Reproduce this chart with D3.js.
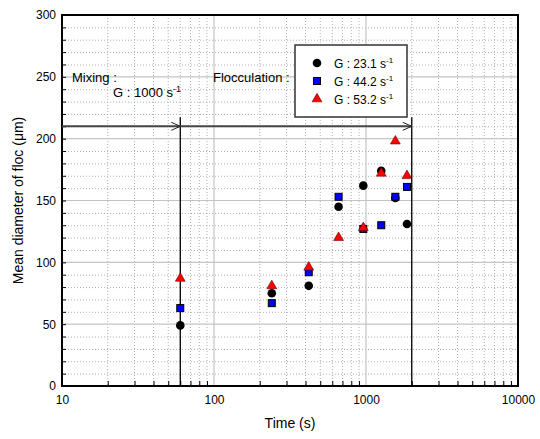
<!DOCTYPE html>
<html>
<meta charset="utf-8">
<head>
<script src="https://d3js.org/d3.v7.min.js"></script>
<style>
  body { margin: 0; background: #fff; }
  text { font-family: "Liberation Sans", Arial, sans-serif; fill: #000; }
</style>
</head>
<body>
<div id="chart"></div>
<script>
// data
var times = [60, 240, 420, 660, 960, 1260, 1560, 1860];
var g231 = [49, 75, 81, 145, 162, 174, 152, 131];
var g442 = [63, 67, 92, 153, 127, 130, 153, 161];
var g532 = [87, 81, 96, 120, 128, 172, 198, 170];
var seriesNames = ["G : 23.1 s", "G : 44.2 s", "G : 53.2 s"];
var xMajor = [10, 100, 1000, 10000];
var yMajor = [0, 50, 100, 150, 200, 250, 300];
var phaseTimes = [60, 2000];
var phaseLevel = 210;

var W = 540, H = 439;
var pL = 62, pR = 518, pT = 15, pB = 386;

var svg = d3.select("#chart").append("svg")
  .attr("width", W)
  .attr("height", H);

var x = d3.scaleLog().domain([10, 10000]).range([pL, pR]);
var y = d3.scaleLinear().domain([0, 300]).range([pB, pT]);

var xMinor = x.ticks().filter(function(d) { return xMajor.indexOf(d) < 0; });
var yMinor = d3.range(0, 301, 10).filter(function(d) { return d % 50 != 0; });

// grid
var grid = svg.append("g");
grid.selectAll(".xm").data(xMinor).enter().append("line")
  .attr("x1", function(d) { return x(d); }).attr("x2", function(d) { return x(d); })
  .attr("y1", pT).attr("y2", pB)
  .attr("stroke", "#b0b0b0").attr("stroke-width", 1).attr("stroke-dasharray", "1,2");
grid.selectAll(".ym").data(yMinor).enter().append("line")
  .attr("x1", pL).attr("x2", pR)
  .attr("y1", function(d) { return y(d) + 0.5; }).attr("y2", function(d) { return y(d) + 0.5; })
  .attr("stroke", "#b0b0b0").attr("stroke-width", 1).attr("stroke-dasharray", "1,2");
grid.selectAll(".xM").data(xMajor).enter().append("line")
  .attr("x1", function(d) { return x(d); }).attr("x2", function(d) { return x(d); })
  .attr("y1", pT).attr("y2", pB)
  .attr("stroke", "#c4c4c4").attr("stroke-width", 1.2);
grid.selectAll(".yM").data(yMajor).enter().append("line")
  .attr("x1", pL).attr("x2", pR)
  .attr("y1", function(d) { return y(d); }).attr("y2", function(d) { return y(d); })
  .attr("stroke", "#c4c4c4").attr("stroke-width", 1.2);

// axes with inward ticks
var xAxis = svg.append("g").attr("transform", "translate(0," + pB + ")")
  .call(d3.axisTop(x).tickValues(xMinor).tickSize(5).tickFormat(""));
xAxis.select(".domain").remove();
var xAxis2 = svg.append("g").attr("transform", "translate(0," + pB + ")")
  .call(d3.axisBottom(x).tickValues(xMajor).tickSize(0).tickPadding(9).tickFormat(d3.format("d")));
xAxis2.select(".domain").remove();
xAxis2.selectAll("text").attr("font-size", 12).attr("font-family", "Liberation Sans, Arial, sans-serif");

var yAxis = svg.append("g").attr("transform", "translate(" + pL + ",0)")
  .call(d3.axisRight(y).tickValues(yMinor.concat(yMajor)).tickSize(4).tickFormat(""));
yAxis.select(".domain").remove();
var yAxis2 = svg.append("g").attr("transform", "translate(" + pL + ",0)")
  .call(d3.axisLeft(y).tickValues(yMajor).tickSize(0).tickPadding(6));
yAxis2.select(".domain").remove();
yAxis2.selectAll("text").attr("font-size", 12).attr("font-family", "Liberation Sans, Arial, sans-serif");

// frame
svg.append("rect")
  .attr("x", pL).attr("y", pT)
  .attr("width", pR - pL).attr("height", pB - pT)
  .attr("fill", "none").attr("stroke", "#000").attr("stroke-width", 2);

// phase arrows
svg.append("defs").append("marker")
  .attr("id", "arr").attr("viewBox", "-10 -5 12 10")
  .attr("refX", 0).attr("refY", 0)
  .attr("markerWidth", 12).attr("markerHeight", 10)
  .attr("markerUnits", "userSpaceOnUse")
  .attr("orient", "auto")
  .append("path").attr("d", "M-9,-4L0,0L-9,4")
  .attr("fill", "none").attr("stroke", "#222").attr("stroke-width", 1);

svg.selectAll(".vph").data(phaseTimes).enter().append("line")
  .attr("x1", function(d) { return x(d); }).attr("x2", function(d) { return x(d); })
  .attr("y1", y(phaseLevel) - 9).attr("y2", pB)
  .attr("stroke", "#000").attr("stroke-width", 1.3);

svg.append("line")
  .attr("x1", pL).attr("x2", x(phaseTimes[0]))
  .attr("y1", y(phaseLevel)).attr("y2", y(phaseLevel))
  .attr("stroke", "#444").attr("stroke-width", 2)
  .attr("marker-end", "url(#arr)");
svg.append("line")
  .attr("x1", x(phaseTimes[0])).attr("x2", x(phaseTimes[1]))
  .attr("y1", y(phaseLevel)).attr("y2", y(phaseLevel))
  .attr("stroke", "#444").attr("stroke-width", 2)
  .attr("marker-end", "url(#arr)");

// annotations
svg.append("text").attr("x", 72).attr("y", 82).attr("font-size", 13).text("Mixing :");
var gm = svg.append("text").attr("x", 113).attr("y", 97).attr("font-size", 13);
gm.append("tspan").text("G : 1000 s");
gm.append("tspan").attr("dy", -5).attr("font-size", 9).text("-1");
svg.append("text").attr("x", 213).attr("y", 82).attr("font-size", 13).text("Flocculation :");

// points
function pts(vals) {
  return vals.map(function(v, i) { return { t: times[i], v: v }; });
}
svg.append("g").selectAll("circle").data(pts(g231)).enter().append("circle")
  .attr("cx", function(d) { return x(d.t); })
  .attr("cy", function(d) { return y(d.v); })
  .attr("r", 4.3).attr("fill", "#000");

svg.append("g").selectAll("rect").data(pts(g442)).enter().append("rect")
  .attr("x", function(d) { return x(d.t) - 3.5; })
  .attr("y", function(d) { return y(d.v) - 3.5; })
  .attr("width", 7).attr("height", 7)
  .attr("fill", "#0000ff").attr("stroke", "#000").attr("stroke-width", 1);

var tri = d3.symbol().type(d3.symbolTriangle).size(42);
svg.append("g").selectAll("path").data(pts(g532)).enter().append("path")
  .attr("transform", function(d) { return "translate(" + x(d.t) + "," + y(d.v) + ")"; })
  .attr("d", tri)
  .attr("fill", "#ff0000").attr("stroke", "#600").attr("stroke-width", 0.6);

// legend
var lg = svg.append("g");
lg.append("rect").attr("x", 295).attr("y", 45).attr("width", 112).attr("height", 72)
  .attr("fill", "#fff").attr("stroke", "#333").attr("stroke-width", 1.5);
var rows = [63, 81, 99];
lg.append("circle").attr("cx", 317).attr("cy", rows[0]).attr("r", 4.3).attr("fill", "#000");
lg.append("rect").attr("x", 313.5).attr("y", rows[1] - 3.5).attr("width", 7).attr("height", 7)
  .attr("fill", "#0000ff").attr("stroke", "#000");
lg.append("path").attr("transform", "translate(317," + rows[2] + ")").attr("d", tri)
  .attr("fill", "#ff0000").attr("stroke", "#600").attr("stroke-width", 0.6);
seriesNames.forEach(function(n, i) {
  var t = lg.append("text").attr("x", 334).attr("y", rows[i] + 4.5).attr("font-size", 12);
  t.append("tspan").text(n);
  t.append("tspan").attr("dy", -5).attr("font-size", 8).text("-1");
});

// axis titles
svg.append("text").attr("x", (pL + pR) / 2).attr("y", 428)
  .attr("text-anchor", "middle").attr("font-size", 14).text("Time (s)");
svg.append("text")
  .attr("transform", "translate(23," + ((pT + pB) / 2) + ") rotate(-90)")
  .attr("text-anchor", "middle").attr("font-size", 14)
  .text("Mean diameter of floc (\u03bcm)");
</script>
</body>
</html>
